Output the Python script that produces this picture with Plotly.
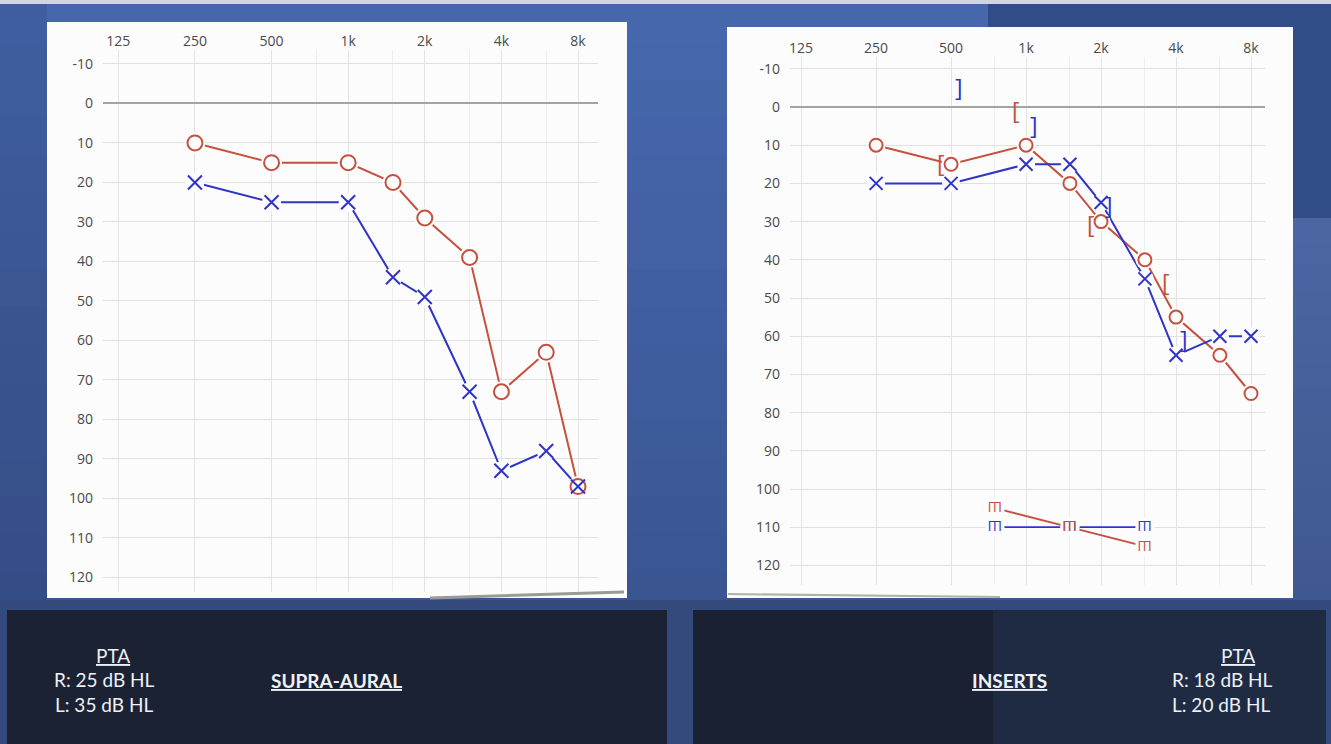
import numpy as np
import plotly.graph_objects as go

W, H = 1331, 744

# ---------------- data ----------------
freq_ticks = [125, 250, 500, 1000, 2000, 4000, 8000]
freq_labels = ["125", "250", "500", "1k", "2k", "4k", "8k"]
minor_freqs = [750, 1500, 3000, 6000]
db_ticks = list(range(-10, 121, 10))
db_labels = [str(v) for v in db_ticks]

freqs = [250, 500, 1000, 1500, 2000, 3000, 4000, 6000, 8000]

# supra-aural headphones
sa_right = [10, 15, 15, 20, 29, 39, 73, 63, 97]
sa_left = [20, 25, 25, 44, 49, 73, 93, 88, 97]

# insert earphones
ins_right = [10, 15, 10, 20, 30, 40, 55, 65, 75]
ins_left = [20, 20, 15, 15, 25, 45, 65, 60, 60]

# masked bone conduction
bc_freqs = [500, 1000, 2000, 4000]
bc_right = [15, 1, 31, 46]
bc_left = [-5, 5, 26, 61]

# other masked symbols
m_freqs = [750, 1500, 3000]
m_right = [105, 110, 115]
m_left = [110, 110, 110]

pta_supra = ["R: 25 dB HL", "L: 35 dB HL"]
pta_insert = ["R: 18 dB HL", "L: 20 dB HL"]

RED = "#c5503e"
BLUE = "#2f33c8"
PANEL = "#fcfcfc"


def px(x):
    return x / W


def py(y):
    return 1 - y / H


def hexlerp(c1, c2, t):
    a = [int(c1[i:i + 2], 16) for i in (1, 3, 5)]
    b = [int(c2[i:i + 2], 16) for i in (1, 3, 5)]
    return "#" + "".join(f"{round(a[k] + (b[k] - a[k]) * t):02x}" for k in range(3))


def rect(x0, y0, x1, y1, color):
    return dict(type="rect", xref="paper", yref="paper", x0=px(x0), x1=px(x1),
                y0=py(y1), y1=py(y0), fillcolor=color, line=dict(width=0), layer="below")


shapes = []
shapes.append(rect(0, 0, W, H, "#3a5088"))
n = 16
for i in range(n):
    y0 = 4 + (606 / n) * i
    y1 = 4 + (606 / n) * (i + 1) + 1
    shapes.append(rect(0, y0, 988, y1, hexlerp("#4767ad", "#3a5592", i / (n - 1))))
shapes.append(rect(988, 4, W, 218, "#314d88"))
for i in range(n):
    y0 = 218 + (392 / n) * i
    y1 = 218 + (392 / n) * (i + 1) + 1
    shapes.append(rect(988, y0, W, y1, hexlerp("#4b66a2", "#3f5891", i / (n - 1))))
shapes.append(rect(0, 4, 47, 610, "rgba(15,25,60,0.12)"))
shapes.append(rect(0, 0, W, 4, "#d2d6dc"))
shapes.append(rect(0, 600, W, H, "#34497c"))
shapes.append(rect(7, 610, 667, H, "#1b2233"))
shapes.append(rect(693, 610, 993, H, "#1a2132"))
shapes.append(rect(993, 610, 1326, H, "#1f2a43"))
shapes.append(rect(47, 22, 627, 598, PANEL))
shapes.append(rect(727, 27, 1293, 598, PANEL))
shapes.append(dict(type="line", xref="paper", yref="paper", x0=px(430), x1=px(624),
                   y0=py(598), y1=py(592), line=dict(color="#9a9a9a", width=3), layer="below"))
shapes.append(dict(type="line", xref="paper", yref="paper", x0=px(728), x1=px(1000),
                   y0=py(594), y1=py(597), line=dict(color="#b0b0b0", width=2), layer="below"))

fig = go.Figure()


def add_chart(xa, ya, right, left, osize, xsize):
    fig.add_trace(go.Scatter(x=freqs, y=right, mode="lines", line=dict(color=RED, width=2),
                             xaxis=xa, yaxis=ya, hoverinfo="skip"))
    fig.add_trace(go.Scatter(x=freqs, y=left, mode="lines", line=dict(color=BLUE, width=2),
                             xaxis=xa, yaxis=ya, hoverinfo="skip"))
    # white gaps around the symbols
    fig.add_trace(go.Scatter(x=freqs, y=left, mode="markers",
                             marker=dict(symbol="circle", color=PANEL, size=xsize + 5, line=dict(width=0)),
                             xaxis=xa, yaxis=ya, hoverinfo="skip"))
    fig.add_trace(go.Scatter(x=freqs, y=right, mode="markers",
                             marker=dict(symbol="circle", color=PANEL, size=osize + 6, line=dict(width=0)),
                             xaxis=xa, yaxis=ya, hoverinfo="skip"))
    fig.add_trace(go.Scatter(x=freqs, y=right, mode="markers", name="Right",
                             marker=dict(symbol="circle", color=PANEL, size=osize,
                                         line=dict(color=RED, width=2)),
                             xaxis=xa, yaxis=ya))
    fig.add_trace(go.Scatter(x=freqs, y=left, mode="markers", name="Left",
                             marker=dict(symbol="x-thin", size=xsize,
                                         line=dict(color=BLUE, width=2)),
                             xaxis=xa, yaxis=ya))


add_chart("x", "y", sa_right, sa_left, 15, 14)
add_chart("x2", "y2", ins_right, ins_left, 13, 13)

# masked-symbol connecting lines with white gaps
fig.add_trace(go.Scatter(x=m_freqs, y=m_left, mode="lines+markers", line=dict(color=BLUE, width=1.8),
                         marker=dict(symbol="square", size=19, color=PANEL),
                         xaxis="x2", yaxis="y2", hoverinfo="skip"))
fig.add_trace(go.Scatter(x=m_freqs, y=m_right, mode="lines+markers", line=dict(color=RED, width=1.8),
                         marker=dict(symbol="square", size=19, color=PANEL),
                         xaxis="x2", yaxis="y2", hoverinfo="skip"))

annotations = []

# masked bone conduction brackets
for f, v in zip(bc_freqs, bc_right):
    annotations.append(dict(x=np.log10(f), y=v, xref="x2", yref="y2", text="[",
                            showarrow=False, font=dict(family="Open Sans", size=23, color=RED),
                            xanchor="center", yanchor="middle", xshift=-10, yshift=1))
for f, v in zip(bc_freqs, bc_left):
    annotations.append(dict(x=np.log10(f), y=v, xref="x2", yref="y2", text="]",
                            showarrow=False, font=dict(family="Open Sans", size=23, color=BLUE),
                            xanchor="center", yanchor="middle", xshift=8, yshift=1))

for f, v in zip(m_freqs, m_left):
    annotations.append(dict(x=np.log10(f), y=v, xref="x2", yref="y2", text="Ш", textangle=180,
                            showarrow=False, font=dict(family="Open Sans", size=14, color=BLUE),
                            xanchor="center", yanchor="middle", borderpad=0))
for f, v in zip(m_freqs, m_right):
    annotations.append(dict(x=np.log10(f), y=v, xref="x2", yref="y2", text="Ш", textangle=180,
                            showarrow=False, font=dict(family="Open Sans", size=14, color=RED),
                            xanchor="center", yanchor="middle", borderpad=0))

# bottom texts
tfont = dict(family="Lato", size=19, color="#eef1f6")


def label(x, y, text):
    annotations.append(dict(x=px(x), y=py(y), xref="paper", yref="paper", text=text,
                            showarrow=False, font=tfont, xanchor="center", yanchor="middle"))


label(113, 655, "<u>PTA</u>")
label(104, 679, pta_supra[0])
label(104, 704, pta_supra[1])
label(336, 680, "<b><u>SUPRA-AURAL</u></b>")
label(1009, 680, "<b><u>INSERTS</u></b>")
label(1238, 655, "<u>PTA</u>")
label(1222, 679, pta_insert[0])
label(1221, 704, pta_insert[1])

tick_font = dict(family="Open Sans", size=14, color="#4a4a4a")


def xaxis_cfg(d0, d1, f0, f1, anchor):
    return dict(type="log", domain=[px(d0), px(d1)], range=[np.log10(f0), np.log10(f1)],
                side="top", tickmode="array", tickvals=freq_ticks, ticktext=freq_labels,
                showgrid=True, gridcolor="#e3e3e3", gridwidth=1,
                minor=dict(tickmode="array", tickvals=minor_freqs, showgrid=True,
                           gridcolor="#efefef", ticks=""),
                showline=False, zeroline=False, ticks="", tickfont=tick_font,
                anchor=anchor, fixedrange=True)


def yaxis_cfg(top, bottom, r0, r1, anchor):
    return dict(domain=[py(bottom), py(top)], range=[r0, r1], tickmode="array",
                tickvals=db_ticks, ticktext=db_labels, showgrid=True, gridcolor="#e0e0e0", gridwidth=1,
                zeroline=True, zerolinecolor="#a3a3a3", zerolinewidth=1.5,
                showline=False, ticks="", ticklabelstandoff=9, tickfont=tick_font,
                anchor=anchor, fixedrange=True)


fig.update_layout(
    width=W, height=H, autosize=False,
    margin=dict(l=0, r=0, t=0, b=0),
    paper_bgcolor="#3e5a96", plot_bgcolor="rgba(0,0,0,0)",
    showlegend=False,
    shapes=shapes, annotations=annotations,
    xaxis=xaxis_cfg(103, 598, 108.8, 9587, "y"),
    yaxis=yaxis_cfg(50, 592, 123.7, -13.54, "x"),
    xaxis2=xaxis_cfg(790, 1265, 112.8, 9105, "y2"),
    yaxis2=yaxis_cfg(57, 585, 125.13, -13.09, "x2"),
)

fig.write_html("out.html")
